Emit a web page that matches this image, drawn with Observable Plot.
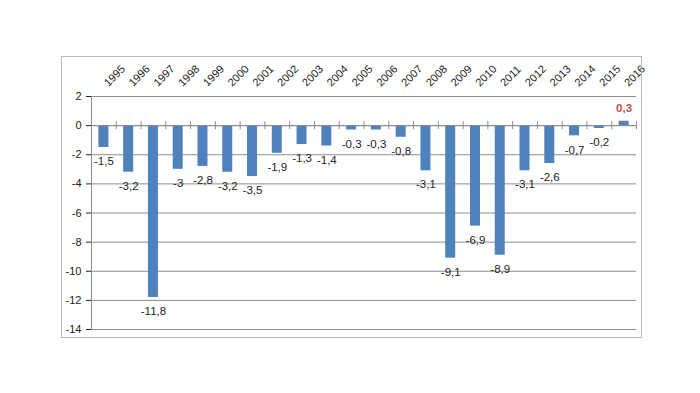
<!DOCTYPE html>
<html>
<head>
<meta charset="utf-8">
<script src="https://cdn.jsdelivr.net/npm/d3@7"></script>
<script src="https://cdn.jsdelivr.net/npm/@observablehq/plot@0.6"></script>
<style>
  html, body { margin: 0; padding: 0; background: #fff; }
  #wrap { position: relative; width: 700px; height: 393px; overflow: hidden; }
  #border { position: absolute; left: 61px; top: 56px; width: 579px; height: 280px; border: 1px solid #b9b9b9; pointer-events: none; }
  #chart { position: absolute; left: 0; top: 0; width: 700px; }
  #chart svg { max-width: none !important; width: 700px; height: 393px; }
</style>
</head>
<body>
<div id="wrap"><div id="chart"></div><div id="border"></div></div>
<script>
const years = ["1995","1996","1997","1998","1999","2000","2001","2002","2003","2004","2005","2006","2007","2008","2009","2010","2011","2012","2013","2014","2015","2016"];
const values = [-1.5,-3.2,-11.8,-3,-2.8,-3.2,-3.5,-1.9,-1.3,-1.4,-0.3,-0.3,-0.8,-3.1,-9.1,-6.9,-8.9,-3.1,-2.6,-0.7,-0.2,0.3];
const yTicks = [2,0,-2,-4,-6,-8,-10,-12,-14];

const data = years.map((y, i) => ({year: y, value: values[i], label: String(values[i]).replace(".", ",")}));
const neg = data.filter(d => d.value < 0);
const pos = data.filter(d => d.value >= 0);

const W = 700, H = 393, mL = 91, mR = 64, mT = 96, mB = 64;
const step = (W - mL - mR) / years.length;
const inset = (step - 10) / 2;
const font = "Liberation Sans, Arial, sans-serif";

const chart = Plot.plot({
  width: W, height: H,
  marginLeft: mL, marginRight: mR, marginTop: mT, marginBottom: mB,
  style: {fontFamily: font, fontSize: "11px", color: "#222", background: "transparent", overflow: "visible", maxWidth: "none"},
  x: {domain: years, padding: 0, round: false, axis: null},
  y: {domain: [-14, 2], ticks: yTicks, tickFormat: d => String(d), tickSize: 5, tickPadding: 5, label: null},
  marks: [
    Plot.gridY(yTicks, {stroke: "#8c8c8c", strokeOpacity: 1, strokeWidth: 1}),
    Plot.frame({anchor: "left", stroke: "#8c8c8c"}),
    Plot.barY(data, {x: "year", y: "value", fill: "#4f81bd", insetLeft: inset, insetRight: inset}),
    Plot.ruleY([0], {stroke: "#8c8c8c"}),
    Plot.ruleX(years, {x: d => d, y1: -0.28, y2: 0.28, dx: -step / 2, stroke: "#8c8c8c"}),
    Plot.ruleX([years[years.length - 1]], {x: d => d, y1: -0.28, y2: 0.28, dx: step / 2, stroke: "#8c8c8c"}),
    Plot.text(neg, {x: "year", y: "value", text: "label", dy: 14, fill: "#222", fontSize: 11.5}),
    Plot.text(pos, {x: "year", y: "value", text: "label", dy: -13, fill: "#c0504d", fontWeight: "bold", fontSize: 11.5}),
    Plot.text(years, {x: d => d, frameAnchor: "top", text: d => d, rotate: -45, textAnchor: "start", dy: -15, dx: -1, fill: "#222", fontSize: 11})
  ]
});
document.getElementById("chart").appendChild(chart);
</script>
</body>
</html>
